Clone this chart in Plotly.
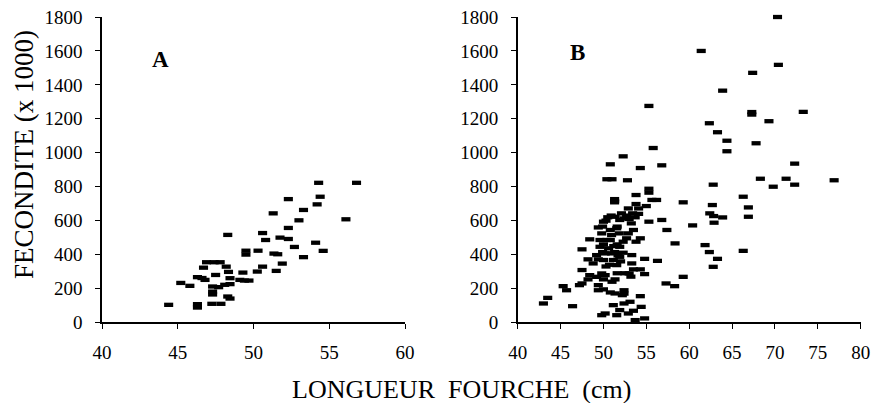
import plotly.graph_objects as go

# Panel A data
xA = [54.3, 56.8, 54.4, 54.2, 52.3, 53.3, 51.3, 53.0, 56.1, 52.3, 50.6, 48.3, 50.8, 51.75, 52.3,
      54.1, 54.6, 52.7, 50.3, 49.5, 49.5, 51.35, 51.6, 53.3, 51.9, 50.6, 51.5, 50.25, 49.3, 46.9,
      47.4, 47.8, 46.7, 48.2, 48.35, 47.5, 46.3, 46.8, 46.6, 45.2, 45.8, 47.3, 47.7, 48.1, 48.45,
      49.1, 49.7, 49.4, 48.45, 47.3, 47.3, 48.3, 48.45, 44.4, 46.3, 46.3, 47.25, 47.85]
yA = [823, 823, 741, 696, 727, 663, 643, 602, 608, 557, 527, 516, 486, 500, 492,
      470, 422, 445, 423, 423, 400, 406, 402, 385, 347, 329, 304, 300, 294, 355,
      355, 355, 323, 329, 298, 280, 267, 251, 262, 233, 216, 212, 208, 222, 226,
      251, 247, 247, 261, 182, 165, 153, 141, 104, 108, 88, 110, 110]

# Panel B data
xB = [70.3, 61.4, 70.4, 67.4, 63.9, 55.3, 67.3, 67.3, 73.3, 62.35, 69.3, 63.3, 64.4, 64.4, 67.8,
      55.8, 52.3, 50.8, 54.3, 56.8, 72.3, 50.4, 51.0, 52.8, 62.8, 68.3, 69.8, 71.3, 72.3, 76.9,
      55.3, 55.3, 66.3, 53.8, 51.3, 51.3, 51.3,
      62.7, 62.85, 62.4, 62.9, 63.9, 62.8, 63.3, 61.85, 62.35, 66.9, 66.9, 66.3, 60.4, 59.3, 59.3,
      58.3, 57.3, 58.35, 57.4, 56.8, 56.3, 55.65, 56.2, 55.3, 55.0, 54.8, 54.8, 54.8, 54.3, 54.4,
      53.8, 53.7, 53.5, 53.5, 53.0, 54.3, 53.8, 54.3, 53.3, 53.3, 52.9, 53.25, 53.4, 52.9, 52.4,
      52.4, 53.1, 52.9, 51.9, 51.55, 51.15, 52.4, 52.2, 51.35, 50.8, 51.35, 50.0, 50.2, 49.4, 49.4,
      49.8, 50.2, 49.2, 49.8, 48.4, 48.2, 47.5, 47.5, 47.5, 48.4, 48.2, 48.8, 49.4, 49.2, 49.6,
      49.6, 49.8, 49.4, 50.0, 50.8, 51.35, 51.9, 52.1, 51.55, 50.95, 50.4, 50.6, 50.95, 51.15, 51.55,
      51.9, 51.9, 52.3, 52.3, 50.2, 50.0, 50.8, 51.85, 52.7, 53.5, 54.1, 43.0, 43.5, 45.3, 45.7,
      46.4, 47.2,
      50.5, 50.9, 51.6, 50.0, 50.3, 51.6, 52.5, 53.2, 51.0, 52.4, 50.0, 50.3, 49.9, 52.7, 53.0,
      53.7, 54.1, 51.2, 51.6, 52.0, 50.7, 49.9, 51.3, 51.7]
yB = [1800, 1600, 1518, 1471, 1366, 1276, 1225, 1240, 1241, 1174, 1186, 1121, 1071, 1009, 1056,
      1028, 979, 932, 910, 926, 936, 844, 844, 838, 812, 847, 800, 847, 812, 838,
      788, 765, 741, 751, 727, 708, 716,
      692, 627, 643, 588, 619, 328, 375, 456, 415, 678, 623, 422, 572, 708, 269,
      214, 230, 466, 545, 604, 363, 722, 722, 594, 686, 375, 285, 24, 155, 92,
      698, 14, 69, 313, 289, 496, 476, 313, 348, 397, 525, 584, 643, 672, 613,
      112, 122, 53, 73, 43, 102, 190, 161, 171, 177, 254, 254, 279, 190, 220,
      43, 53, 269, 289, 279, 254, 230, 309, 431, 490, 372, 348, 372, 397, 446,
      486, 525, 560, 594, 545, 623, 604, 643, 555, 515, 486, 437, 407, 368, 338,
      387, 446, 476, 411, 407, 368, 486, 525, 496, 545, 672, 112, 145, 214, 190,
      96, 220,
      620, 630, 565, 460, 330, 290, 290, 270, 240, 170, 195, 600, 565, 630, 610,
      620, 640, 450, 460, 360, 340, 415, 415, 395]

y_ticks = [0, 200, 400, 600, 800, 1000, 1200, 1400, 1600, 1800]
xA_ticks = [40, 45, 50, 55, 60]
xB_ticks = [40, 45, 50, 55, 60, 65, 70, 75, 80]

FONT = "Liberation Serif"

marker = dict(symbol="line-ew", size=6.5, color="black",
              line=dict(color="black", width=4.3))

fig = go.Figure()
fig.add_trace(go.Scatter(x=xA, y=yA, mode="markers", marker=marker,
                         xaxis="x", yaxis="y", cliponaxis=False, showlegend=False))
fig.add_trace(go.Scatter(x=xB, y=yB, mode="markers", marker=marker,
                         xaxis="x2", yaxis="y2", cliponaxis=False, showlegend=False))

ax_common = dict(showline=True, linecolor="black", linewidth=1.5, ticks="outside",
                 ticklen=5, tickwidth=1.2, tickcolor="black", showgrid=False,
                 zeroline=False, automargin=False,
                 tickfont=dict(family=FONT, size=19, color="black"))
x_extra = dict(ticklabelstandoff=7)
y_extra = dict(ticklabelstandoff=9)

ydom = [0.1998, 0.9578]
fig.update_layout(
    width=871, height=403,
    margin=dict(l=0, r=0, t=0, b=0, autoexpand=False),
    font=dict(family=FONT, color="black"),
    paper_bgcolor="white", plot_bgcolor="white",
    xaxis=dict(domain=[102/871, 405/871], range=[40, 60], tickvals=xA_ticks,
               anchor="y", **ax_common, **x_extra),
    yaxis=dict(domain=ydom, range=[0, 1800], tickvals=y_ticks, anchor="x",
               **ax_common, **y_extra),
    xaxis2=dict(domain=[517.7/871, 860.7/871], range=[40, 80], tickvals=xB_ticks,
                anchor="y2", **ax_common, **x_extra),
    yaxis2=dict(domain=ydom, range=[0, 1800], tickvals=y_ticks, anchor="x2",
                **ax_common, **y_extra),
    annotations=[
        dict(text="FECONDITE (x 1000)", x=24/871, y=1-155/403, xref="paper", yref="paper",
             textangle=-90, showarrow=False, xanchor="center", yanchor="middle",
             font=dict(family=FONT, size=27, color="black")),
        dict(text="LONGUEUR  FOURCHE  (cm)", x=461/871, y=1-389/403, xref="paper", yref="paper",
             showarrow=False, xanchor="center", yanchor="middle",
             font=dict(family=FONT, size=26, color="black")),
        dict(text="<b>A</b>", x=160/871, y=1-60/403, xref="paper", yref="paper",
             showarrow=False, xanchor="center", yanchor="middle",
             font=dict(family=FONT, size=23, color="black")),
        dict(text="<b>B</b>", x=577/871, y=1-52/403, xref="paper", yref="paper",
             showarrow=False, xanchor="center", yanchor="middle",
             font=dict(family=FONT, size=23, color="black")),
    ],
)

fig.write_html("out.html", config={"displayModeBar": False},
               post_script="document.body.style.margin='0';document.body.style.padding='0';")
